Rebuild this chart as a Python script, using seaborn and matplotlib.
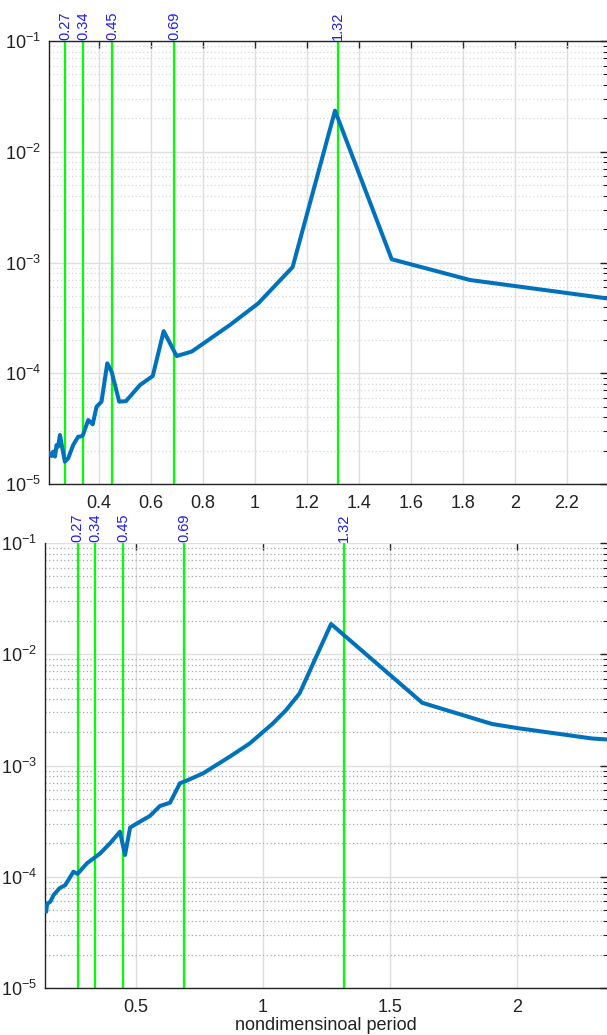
import numpy as np
import pandas as pd
import matplotlib
matplotlib.use("Agg")
import matplotlib.pyplot as plt
import matplotlib.ticker as mticker
import seaborn as sns

# ---------------- data ----------------
top_period = [0.209, 0.218, 0.224, 0.231, 0.237, 0.243, 0.250, 0.257, 0.269, 0.282,
              0.301, 0.320, 0.337, 0.359, 0.376, 0.391, 0.410, 0.432, 0.449, 0.478,
              0.504, 0.558, 0.607, 0.649, 0.699, 0.757, 0.904, 1.013, 1.145, 1.308,
              1.526, 1.827, 2.360]
top_value = [1.89e-5, 1.79e-5, 1.96e-5, 1.77e-5, 2.25e-5, 2.17e-5, 2.77e-5, 2.25e-5, 1.59e-5, 1.71e-5,
             2.25e-5, 2.67e-5, 2.71e-5, 3.78e-5, 3.46e-5, 4.99e-5, 5.54e-5, 1.23e-4, 1.03e-4, 5.54e-5,
             5.60e-5, 7.83e-5, 9.44e-5, 2.40e-4, 1.43e-4, 1.57e-4, 2.73e-4, 4.28e-4, 9.10e-4, 2.35e-2,
             1.07e-3, 6.95e-4, 4.72e-4]

bot_period = [0.147, 0.150, 0.163, 0.176, 0.199, 0.222, 0.254, 0.270, 0.307, 0.359,
              0.398, 0.437, 0.457, 0.477, 0.516, 0.555, 0.594, 0.634, 0.673, 0.699,
              0.764, 0.869, 0.948, 1.039, 1.091, 1.144, 1.268, 1.627, 1.902, 2.007,
              2.294, 2.360]
bot_value = [4.85e-5, 5.69e-5, 5.97e-5, 6.86e-5, 7.87e-5, 8.43e-5, 1.11e-4, 1.06e-4, 1.32e-4, 1.62e-4,
             2.00e-4, 2.54e-4, 1.57e-4, 2.77e-4, 3.13e-4, 3.52e-4, 4.32e-4, 4.63e-4, 6.92e-4, 7.30e-4,
             8.50e-4, 1.20e-3, 1.58e-3, 2.39e-3, 3.15e-3, 4.45e-3, 1.87e-2, 3.66e-3, 2.36e-3, 2.16e-3,
             1.75e-3, 1.71e-3]

mode_periods = [0.27, 0.34, 0.45, 0.69, 1.32]
mode_labels = ["0.27", "0.34", "0.45", "0.69", "1.32"]

top_xticks = [0.4, 0.6, 0.8, 1.0, 1.2, 1.4, 1.6, 1.8, 2.0, 2.2]
bot_xticks = [0.5, 1.0, 1.5, 2.0]
x_label = "nondimensinoal period"

# ---------------- style ----------------
sns.set_style("white")
plt.rcParams["font.family"] = ["Liberation Sans", "DejaVu Sans"]
plt.rcParams["mathtext.fontset"] = "custom"
plt.rcParams["mathtext.rm"] = "Liberation Sans"
plt.rcParams["mathtext.it"] = "Liberation Sans:italic"
plt.rcParams["mathtext.default"] = "regular"

LINE_C = "#0072BD"
GREEN = "#00FF00"
W, H = 607, 1035
fig = plt.figure(figsize=(W / 100, H / 100), dpi=100)

ax1 = fig.add_axes([49 / W, 1 - 484 / H, 1 - 49 / W, (484 - 41) / H])
ax2 = fig.add_axes([45 / W, 1 - 988 / H, 1 - 45 / W, (988 - 543) / H])


def style_axes(ax, xlim, xticks, minor_color, top_spine=True):
    ax.set_yscale("log")
    ax.set_ylim(1e-5, 1e-1)
    ax.set_xlim(*xlim)
    ax.xaxis.set_major_locator(mticker.FixedLocator(xticks))
    ax.xaxis.set_major_formatter(mticker.FuncFormatter(lambda v, p: "%g" % v))
    ax.xaxis.set_minor_locator(mticker.NullLocator())
    ax.yaxis.set_major_locator(mticker.LogLocator(base=10, numticks=10))
    ax.yaxis.set_minor_locator(mticker.LogLocator(base=10, subs=np.arange(2, 10), numticks=20))
    ax.yaxis.set_minor_formatter(mticker.NullFormatter())
    ax.grid(True, which="major", axis="both", color="#dedede", lw=1.0, ls="-")
    ax.grid(True, which="minor", axis="y", color=minor_color, lw=0.9, ls=(0, (1, 2)))
    ax.set_axisbelow(True)
    ax.tick_params(which="both", direction="in", top=True, right=True,
                   labelsize=13, colors="#222222")
    ax.tick_params(which="major", length=5, width=1.0)
    ax.tick_params(which="minor", length=3, width=0.8)
    ax.tick_params(axis="x", pad=8)
    ax.tick_params(axis="y", pad=6)
    for s in ["left", "bottom", "top"]:
        ax.spines[s].set_color("#222222")
        ax.spines[s].set_linewidth(1.0)
    ax.spines["right"].set_visible(False)
    if not top_spine:
        ax.spines["top"].set_visible(False)


def draw(ax, px, vals):
    for p, lab in zip(mode_periods, mode_labels):
        ax.axvline(p, color=GREEN, lw=1.6, zorder=2)
        ax.text(p, 1.003, lab, transform=ax.get_xaxis_transform(), rotation=90,
                ha="center", va="bottom", color="#1a1aff", fontsize=10.5)
    df = pd.DataFrame({"period": px, "value": vals})
    sns.lineplot(data=df, x="period", y="value", ax=ax, color=LINE_C, lw=2.9,
                 estimator=None, sort=True, zorder=3)
    ax.set_xlabel("")
    ax.set_ylabel("")


draw(ax1, top_period, top_value)
style_axes(ax1, (0.208, 2.354), top_xticks, "#d8d8d8", top_spine=True)

draw(ax2, bot_period, bot_value)
style_axes(ax2, (0.142, 2.354), bot_xticks, "#a8a8a8", top_spine=False)
ax2.set_xlabel(x_label, fontsize=13, labelpad=1, color="#222222")

fig.savefig("out.png", dpi=100)
